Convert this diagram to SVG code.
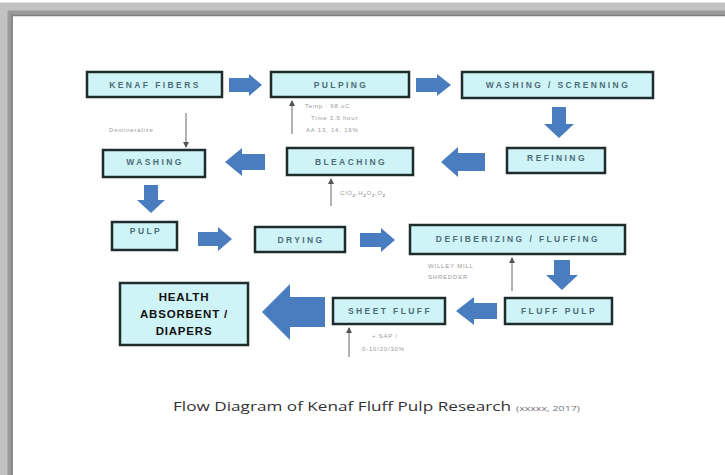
<svg xmlns="http://www.w3.org/2000/svg" width="725" height="475" viewBox="0 0 725 475">
<defs>
<style>
.box{fill:#cff4f8;stroke:#1e2c2c;stroke-width:2.5}
.lbl{font-family:"Liberation Sans",Arial,sans-serif;font-size:8.5px;font-weight:bold;fill:#4d6c78;letter-spacing:2.4px;text-anchor:middle}
.big{font-family:"Liberation Sans",Arial,sans-serif;font-size:11.5px;font-weight:bold;fill:#111;text-anchor:middle;letter-spacing:0.8px}
.ann{font-family:"Liberation Sans",Arial,sans-serif;font-size:6px;fill:#999;letter-spacing:0.8px}
.blk{fill:#4a7dbf}
.thin{stroke:#666;stroke-width:1;fill:none;marker-end:url(#ah)}
.cap{font-family:"Open Sans","Liberation Sans",sans-serif;font-size:12px;fill:#333}
.cap2{font-family:"Open Sans","Liberation Sans",sans-serif;font-size:7px;fill:#777}
</style>
<marker id="ah" markerWidth="6" markerHeight="6" refX="5" refY="3" orient="auto" markerUnits="userSpaceOnUse">
<path d="M0,0 L6,3 L0,6 Z" fill="#555"/>
</marker>
</defs>
<rect x="0" y="0" width="725" height="475" fill="#ffffff"/>
<rect x="6" y="9" width="740" height="490" fill="none" stroke="#c2c2c2" stroke-width="13"/>
<rect x="10" y="13" width="740" height="490" fill="none" stroke="#9a9a9a" stroke-width="5"/>
<rect x="12" y="15.5" width="740" height="490" fill="none" stroke="#7e7e7e" stroke-width="1.5"/>

<g id="connectors">
<path class="blk" d="M229,78 L249,78 L249,74 L262,85 L249,96 L249,92 L229,92 Z"/>
<path class="blk" d="M416,78 L437,78 L437,74 L451,85 L437,96 L437,92 L416,92 Z"/>
<path class="blk" d="M552,107 L566,107 L566,124 L574,124 L559,138 L544,124 L552,124 Z"/>
<path class="blk" d="M485,153 L458,153 L458,147 L441,162 L458,177 L458,171 L485,171 Z"/>
<path class="blk" d="M265,154 L242,154 L242,148 L225,162 L242,176 L242,170 L265,170 Z"/>
<path class="blk" d="M144,185 L158,185 L158,200 L165,200 L151,213 L137,200 L144,200 Z"/>
<path class="blk" d="M198,232 L218,232 L218,227 L232,239 L218,251 L218,246 L198,246 Z"/>
<path class="blk" d="M360,233 L381,233 L381,228 L395,240 L381,252 L381,247 L360,247 Z"/>
<path class="blk" d="M554,260 L570,260 L570,275 L578,275 L562,290 L546,275 L554,275 Z"/>
<path class="blk" d="M497,303 L474,303 L474,297 L456,311 L474,325 L474,319 L497,319 Z"/>
<path class="blk" d="M325,297 L290,297 L290,284 L262,312 L290,340 L290,327 L325,327 Z"/>
<line class="thin" x1="186" y1="113" x2="186" y2="147"/>
<line class="thin" x1="292" y1="134" x2="292" y2="101"/>
<line class="thin" x1="331" y1="206" x2="331" y2="179"/>
<line class="thin" x1="512" y1="291" x2="512" y2="258"/>
<line class="thin" x1="349" y1="357" x2="349" y2="328"/>
</g>

<g id="kenaf-fibers"><rect class="box" x="87" y="72" width="135" height="25"/><text class="lbl" x="155" y="88">KENAF FIBERS</text></g>
<g id="pulping"><rect class="box" x="271" y="72" width="138" height="25"/><text class="lbl" x="341" y="88">PULPING</text></g>
<g id="washing-screening"><rect class="box" x="462" y="72" width="191" height="26"/><text class="lbl" x="558" y="88">WASHING / SCRENNING</text></g>
<g id="refining"><rect class="box" x="507" y="148" width="98" height="25"/><text class="lbl" x="557" y="161">REFINING</text></g>
<g id="bleaching"><rect class="box" x="287" y="148" width="126" height="27"/><text class="lbl" x="351" y="165">BLEACHING</text></g>
<g id="washing"><rect class="box" x="103" y="150" width="102" height="27"/><text class="lbl" x="155" y="165">WASHING</text></g>
<g id="pulp"><rect class="box" x="112" y="222" width="65" height="28"/><text class="lbl" x="146" y="234">PULP</text></g>
<g id="drying"><rect class="box" x="255" y="227" width="90" height="25"/><text class="lbl" x="301" y="243">DRYING</text></g>
<g id="defiberizing"><rect class="box" x="410" y="225" width="215" height="29"/><text class="lbl" x="518" y="242">DEFIBERIZING / FLUFFING</text></g>
<g id="fluff-pulp"><rect class="box" x="505" y="298" width="107" height="26"/><text class="lbl" x="559" y="314">FLUFF PULP</text></g>
<g id="sheet-fluff"><rect class="box" x="333" y="298" width="112" height="26"/><text class="lbl" x="390" y="314">SHEET FLUFF</text></g>
<g id="health"><rect class="box" x="120" y="283" width="128" height="62"/>
<text class="big" x="184" y="301">HEALTH</text><text class="big" x="184" y="318">ABSORBENT /</text><text class="big" x="184" y="335">DIAPERS</text></g>

<g id="annotations">
<text class="ann" x="109" y="132">Demineralize</text>
<text class="ann" x="305" y="108">Temp : 98 oC</text>
<text class="ann" x="311" y="120">Time 3.5 hour</text>
<text class="ann" x="306" y="132">AA 13, 14, 16%</text>
<text class="ann" x="340" y="195">ClO<tspan font-size="4" dy="2" fill="#333">2</tspan><tspan dy="-2">,H</tspan><tspan font-size="4" dy="2" fill="#333">2</tspan><tspan dy="-2">O</tspan><tspan font-size="4" dy="2" fill="#333">2</tspan><tspan dy="-2">,O</tspan><tspan font-size="4" dy="2" fill="#333">2</tspan></text>
<text class="ann" x="428" y="268">WILLEY MILL</text>
<text class="ann" x="428" y="279">SHREDDER</text>
<text class="ann" x="372" y="338">+ SAP /</text>
<text class="ann" x="362" y="351">0-10/20/30%</text>
</g>

<g id="caption">
<text class="cap" x="173" y="411" textLength="338" lengthAdjust="spacingAndGlyphs">Flow Diagram of Kenaf Fluff Pulp Research</text>
<text class="cap2" x="516" y="411" textLength="64" lengthAdjust="spacingAndGlyphs">(xxxxx, 2017)</text>
</g>
</svg>
